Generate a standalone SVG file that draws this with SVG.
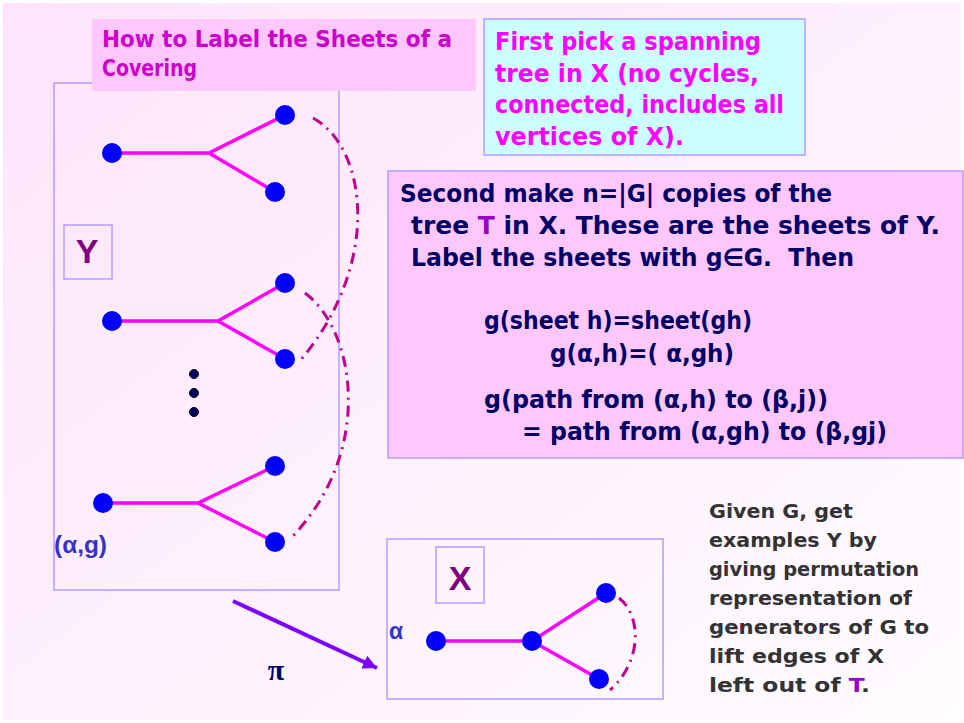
<svg xmlns="http://www.w3.org/2000/svg" width="964" height="723" viewBox="0 0 964 723">
<defs>
<linearGradient id="bg" x1="0" y1="0" x2="1" y2="1">
<stop offset="0" stop-color="#fde4fb"/>
<stop offset="1" stop-color="#fffcff"/>
</linearGradient>
<marker id="ah" markerUnits="userSpaceOnUse" markerWidth="16" markerHeight="14" refX="14" refY="7" orient="auto">
<path d="M0,0 L14,7 L0,14 Z" fill="#7f00ff"/>
</marker>
<style>
.edge{stroke:#ff00ff;stroke-width:3.5;fill:none}
.node{fill:#0000ff}
.dot{fill:#000066;stroke:#000000;stroke-width:1}
.lift{stroke:#c0008f;stroke-width:3;fill:none;stroke-dasharray:11 6 2 6}
.frame{fill:none;stroke:#b39cff;stroke-width:1.5}
.comic{font-family:"DejaVu Sans",sans-serif;font-weight:bold}
.sans{font-family:"Liberation Sans",Arial,sans-serif;font-weight:bold}
.t1{fill:#cc00cc;font-size:22.5px}
.t2{fill:#ff00ff;font-size:24px}
.t3{fill:#000066;font-size:24px}
.t4{fill:#333333;font-size:20px}
.big{fill:#800080;font-size:34px}
.lab{fill:#3333cc;font-size:23px}
</style>
</defs>
<rect x="0" y="0" width="964" height="723" fill="#ffffff"/>
<rect x="3" y="3" width="958" height="717" fill="url(#bg)"/>

<g id="panel-Y">
<rect class="frame" x="54" y="83" width="285" height="507"/>
<rect class="frame" x="64" y="225" width="48" height="54"/>
<text class="sans big" x="87" y="263" text-anchor="middle">Y</text>
<text class="sans lab" x="54" y="553" textLength="53" lengthAdjust="spacingAndGlyphs">(α,g)</text>
</g>

<g id="sheet-1">
<path class="edge" d="M112,153 L209,153 L285,115 M209,153 L275,192"/>
<circle class="node" cx="112" cy="153" r="10"/>
<circle class="node" cx="285" cy="115" r="10"/>
<circle class="node" cx="275" cy="192" r="10"/>
</g>
<g id="sheet-2">
<path class="edge" d="M112,321 L218,321 L285,283 M218,321 L285,359"/>
<circle class="node" cx="112" cy="321" r="10"/>
<circle class="node" cx="285" cy="283" r="10"/>
<circle class="node" cx="285" cy="359" r="10"/>
</g>
<g id="ellipsis">
<circle class="dot" cx="194" cy="374" r="4.5"/>
<circle class="dot" cx="194" cy="393" r="4.5"/>
<circle class="dot" cx="194" cy="412" r="4.5"/>
</g>
<g id="sheet-g">
<path class="edge" d="M103,503 L198,503 L275,466 M198,503 L275,542"/>
<circle class="node" cx="103" cy="503" r="10"/>
<circle class="node" cx="275" cy="466" r="10"/>
<circle class="node" cx="275" cy="542" r="10"/>
</g>

<g id="panel-X">
<rect class="frame" x="387" y="539" width="276" height="160"/>
<rect class="frame" x="436" y="547" width="48" height="56"/>
<text class="sans big" x="460" y="590" text-anchor="middle">X</text>
<text class="sans lab" x="389" y="639">α</text>
<path class="edge" d="M436,641 L532,641 L606,593 M532,641 L599,679"/>
<circle class="node" cx="436" cy="641" r="10"/>
<circle class="node" cx="532" cy="641" r="10"/>
<circle class="node" cx="606" cy="593" r="10"/>
<circle class="node" cx="599" cy="679" r="10"/>
</g>

<g id="connectors">
<path class="lift" d="M313,118 C368,148 382,265 299,362"/>
<path class="lift" d="M305,293 C355,330 375,450 292,537"/>
<path class="lift" d="M619,598 C642,616 642,662 610,690"/>
<line x1="233" y1="601" x2="377" y2="668" stroke="#7f00ff" stroke-width="4" marker-end="url(#ah)"/>
<text x="276" y="680" text-anchor="middle" style="font-family:'Liberation Serif',serif;font-weight:bold;font-size:30px;fill:#000066">π</text>
</g>

<g id="title">
<rect x="92" y="19" width="384" height="72" fill="#fec8fc"/>
<text class="comic t1" x="102" y="47" textLength="350" lengthAdjust="spacingAndGlyphs">How to Label the Sheets of a</text>
<text class="comic t1" x="102" y="76" textLength="95" lengthAdjust="spacingAndGlyphs">Covering</text>
</g>

<g id="step-1">
<rect x="484" y="19" width="321" height="136" fill="#ccffff" stroke="#b39cff" stroke-width="1.5"/>
<text class="comic t2" x="495" y="50" textLength="266" lengthAdjust="spacingAndGlyphs">First pick a spanning</text>
<text class="comic t2" x="495" y="82" textLength="264" lengthAdjust="spacingAndGlyphs">tree in X (no cycles,</text>
<text class="comic t2" x="495" y="113" textLength="289" lengthAdjust="spacingAndGlyphs">connected, includes all</text>
<text class="comic t2" x="495" y="145" textLength="189" lengthAdjust="spacingAndGlyphs">vertices of X).</text>
</g>

<g id="step-2">
<rect x="388" y="171" width="575" height="287" fill="#fec8fc" stroke="#b39cff" stroke-width="1.5"/>
<text class="comic t3" x="400" y="202" textLength="432" lengthAdjust="spacingAndGlyphs">Second make n=|G| copies of the</text>
<text class="comic t3" x="411" y="234" textLength="529" lengthAdjust="spacingAndGlyphs">tree <tspan fill="#9900cc">T</tspan> in X. These are the sheets of Y.</text>
<text class="comic t3" x="411" y="266" textLength="443" lengthAdjust="spacingAndGlyphs" xml:space="preserve">Label the sheets with g∈G.  Then</text>
<text class="comic t3" x="484" y="329" textLength="268" lengthAdjust="spacingAndGlyphs">g(sheet h)=sheet(gh)</text>
<text class="comic t3" x="550" y="362" textLength="184" lengthAdjust="spacingAndGlyphs">g(α,h)=( α,gh)</text>
<text class="comic t3" x="484" y="408" textLength="344" lengthAdjust="spacingAndGlyphs">g(path from (α,h) to (β,j))</text>
<text class="comic t3" x="522" y="440" textLength="365" lengthAdjust="spacingAndGlyphs">= path from (α,gh) to (β,gj)</text>
</g>

<g id="note">
<text class="comic t4" x="709" y="518" textLength="144" lengthAdjust="spacingAndGlyphs">Given G, get</text>
<text class="comic t4" x="709" y="547" textLength="168" lengthAdjust="spacingAndGlyphs">examples Y by</text>
<text class="comic t4" x="709" y="576" textLength="210" lengthAdjust="spacingAndGlyphs">giving permutation</text>
<text class="comic t4" x="709" y="605" textLength="203" lengthAdjust="spacingAndGlyphs">representation of</text>
<text class="comic t4" x="709" y="634" textLength="220" lengthAdjust="spacingAndGlyphs">generators of G to</text>
<text class="comic t4" x="709" y="663" textLength="175" lengthAdjust="spacingAndGlyphs">lift edges of X</text>
<text class="comic t4" x="709" y="692" textLength="161" lengthAdjust="spacingAndGlyphs">left out of <tspan fill="#9900cc">T</tspan>.</text>
</g>
</svg>
